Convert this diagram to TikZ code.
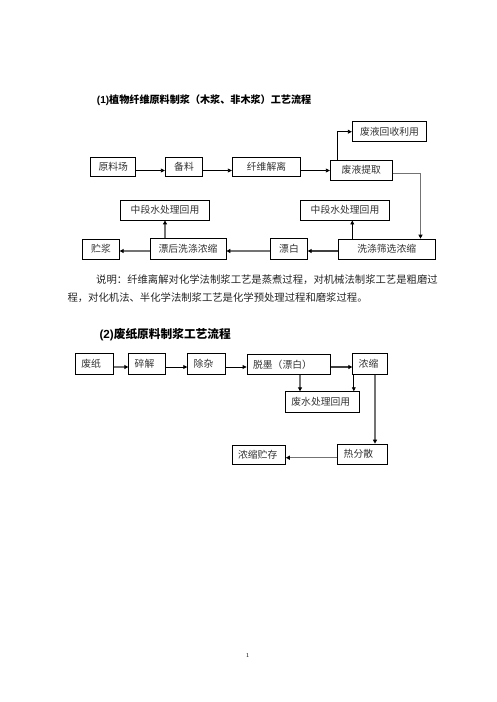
\documentclass[tikz,border=0pt]{standalone}
\usepackage{fontspec}
\newfontfamily\cjk{Noto Sans CJK SC}
\newfontfamily\lat{Liberation Sans}
\usetikzlibrary{arrows.meta}
\begin{document}
\begin{tikzpicture}[x=1pt,y=-1pt,
  box/.style={draw, line width=0.8pt, inner sep=0pt, font=\cjk\fontsize{9.8}{11}\selectfont, text=black!80},
  lbox/.style={box, align=left, inner xsep=6pt, inner ysep=0pt, anchor=west},
  blk/.style={line width=0.8pt, draw=black, -{Triangle[length=4pt,width=3.8pt]}},
  gry/.style={line width=1.4pt, draw=black!55, -{Triangle[length=4pt,width=4pt,color=black]}},
  thk/.style={line width=1.6pt, draw=black!75, -{Triangle[length=4pt,width=4pt,color=black]}},
  txt/.style={inner sep=0pt, anchor=west, text=black!85, font=\cjk\fontsize{10.35}{12}\selectfont}]
\fill[white] (0,0) rectangle (496,702);
\useasboundingbox (0,0) rectangle (496,702);

% titles
\node[inner sep=0pt, anchor=west] (t1) at (96.7,100)
  {\fontsize{10.1}{12}\selectfont{\lat\bfseries (1)}{\cjk\bfseries 植物纤维原料制浆（木浆、非木浆）工艺流程}};
\node[inner sep=0pt, anchor=west] (t2) at (99.3,335)
  {\fontsize{11.7}{14}\selectfont{\lat\bfseries (2)}{\cjk\bfseries 废纸原料制浆工艺流程}};

% section 1, row 1
\node[box, minimum width=45, minimum height=19.4] (yuan) at (113.2,167) {原料场};
\node[box, minimum width=37.4, minimum height=19.4] (bei) at (184,167) {备料};
\node[box, minimum width=68.4, minimum height=19.4] (xianwei) at (266.5,167) {纤维解离};
\node[box, minimum width=62, minimum height=20] (tiqu) at (361.3,170) {废液提取};
\node[box, minimum width=74.4, minimum height=20] (huishou) at (389.5,131.7) {废液回收利用};

% section 1, rows 2-3
\node[box, minimum width=88.6, minimum height=20] (zhongL) at (165,210) {中段水处理回用};
\node[box, minimum width=88.6, minimum height=20] (zhongR) at (345,210) {中段水处理回用};
\node[box, minimum width=36.6, minimum height=20.3] (zhujiang) at (101,249.2) {贮浆};
\node[box, minimum width=76, minimum height=21] (piaohou) at (188,249.2) {漂后洗涤浓缩};
\node[box, minimum width=36.6, minimum height=20.5] (piaobai) at (289,249) {漂白};
\node[box, minimum width=96.7, minimum height=20.3] (xidi) at (386.7,249.2) {洗涤筛选浓缩};

% connectors section 1
\coordinate (r1) at (0,170.5);
\draw[blk] (yuan.east |- r1) -- (bei.west |- r1);
\draw[blk] (bei.east |- r1) -- (xianwei.west |- r1);
\draw[blk] (xianwei.east |- r1) -- (tiqu.west |- r1);
\coordinate (c1) at (337.3,0);
\draw[blk] (tiqu.north -| c1) |- (huishou.west);
\coordinate (c2) at (420.5,173.3);
\draw[gry] (tiqu.east |- c2) -| (xidi.north -| c2);
\coordinate (r3) at (0,251);
\draw[thk] (xidi.west |- r3) -- (piaobai.east |- r3);
\draw[gry] (piaobai.west |- r3) -- (piaohou.east |- r3);
\draw[gry] (piaohou.west |- r3) -- (zhujiang.east |- r3);
\coordinate (c3) at (165,0);
\draw[gry] (piaohou.north -| c3) -- (zhongL.south -| c3);
\coordinate (c4) at (352.3,0);
\draw[blk] (xidi.north -| c4) -- (zhongR.south -| c4);

% explanation
\node[txt] (n1) at (96,280) {说明：纤维离解对化学法制浆工艺是蒸煮过程，对机械法制浆工艺是粗磨过};
\node[txt] (n2) at (67.3,297.3) {程，对化机法、半化学法制浆工艺是化学预处理过程和磨浆过程。};

% section 2
\node[lbox, text width=25.7, minimum height=21] (feizhi) at (75,363.8) {废纸};
\node[lbox, text width=24.7, minimum height=21] (suijie) at (128.3,363.8) {碎解};
\node[lbox, text width=25.7, minimum height=21] (chuza) at (187.3,363.8) {除杂};
\node[lbox, text width=71.3, minimum height=20] (tuomo) at (246.7,364.3) {脱墨（漂白）};
\node[lbox, text width=22.4, minimum height=21] (nongsuo) at (352.3,363.8) {浓缩};
\node[lbox, text width=62.3, minimum height=21] (feishui) at (285,402.2) {废水处理回用};
\node[lbox, text width=37.4, minimum height=20.3] (refensan) at (337.3,454.2) {热分散};
\node[lbox, text width=41.3, minimum height=19.5] (zhucun) at (231.7,454.7) {浓缩贮存};

\coordinate (s1) at (0,367);
\draw[gry] (feizhi.east |- s1) -- (suijie.west |- s1);
\draw[blk] (suijie.east |- s1) -- (chuza.west |- s1);
\draw[blk] (chuza.east |- s1) -- (tuomo.west |- s1);
\draw[thk] (tuomo.east |- s1) -- (nongsuo.west |- s1);
\coordinate (c5) at (300,0);
\draw[gry] (tuomo.south -| c5) -- (feishui.north -| c5);
\coordinate (c6) at (353.8,0);
\draw[blk] (nongsuo.south -| c6) -- (feishui.north -| c6);
\coordinate (c7) at (375,0);
\draw[gry] (nongsuo.south -| c7) -- (refensan.north -| c7);
\coordinate (s2) at (0,457.7);
\draw[gry] (refensan.west |- s2) -- (zhucun.east |- s2);

% page number
\node[inner sep=0pt, font=\fontsize{6}{7}\selectfont] (pg) at (247.7,655) {1};
\end{tikzpicture}
\end{document}
